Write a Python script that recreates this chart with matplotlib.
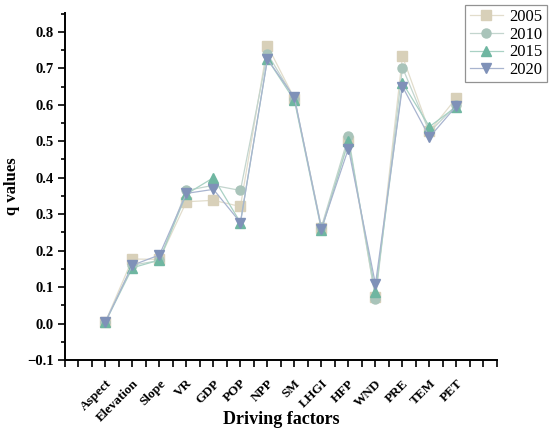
import matplotlib
matplotlib.use("Agg")
import matplotlib.pyplot as plt
from matplotlib.ticker import MultipleLocator, FixedLocator
from matplotlib.transforms import ScaledTranslation

plt.rcParams['font.family'] = ['Liberation Serif', 'DejaVu Serif']

factors = ["Aspect", "Elevation", "Slope", "VR", "GDP", "POP", "NPP", "SM",
           "LHGI", "HFP", "WND", "PRE", "TEM", "PET"]
years = ["2005", "2010", "2015", "2020"]
q2005 = [0.005, 0.177, 0.176, 0.334, 0.338, 0.321, 0.762, 0.617, 0.262, 0.500, 0.072, 0.733, 0.527, 0.619]
q2010 = [0.005, 0.160, 0.173, 0.365, 0.379, 0.365, 0.740, 0.617, 0.265, 0.513, 0.068, 0.702, 0.525, 0.600]
q2015 = [0.004, 0.153, 0.174, 0.355, 0.400, 0.277, 0.725, 0.612, 0.256, 0.500, 0.087, 0.660, 0.540, 0.595]
q2020 = [0.004, 0.160, 0.188, 0.357, 0.368, 0.277, 0.725, 0.620, 0.260, 0.480, 0.108, 0.650, 0.511, 0.597]

series = [q2005, q2010, q2015, q2020]
markers = ['s', 'o', '^', 'v']
mcolors = ['#d8d0b9', '#a9c4ba', '#6fb6a1', '#7f91b8']
lcolors = ['#e2ddcc', '#c3d5ce', '#a9d1c4', '#a8b4cf']

fig = plt.figure(figsize=(5.5, 4.29), dpi=100)
ax = fig.add_axes([0.118, 0.1608, 0.7856, 0.8092])

x = list(range(1, len(factors) + 1))
for vals, m, mc, lc, yr in zip(series, markers, mcolors, lcolors, years):
    ax.plot(x, vals, color=lc, lw=0.9, marker=m, markersize=6.5,
            markerfacecolor=mc, markeredgecolor=mc, label=yr)

ax.set_xlim(-0.5, 15.5)
ax.set_ylim(-0.1, 0.852)
ax.xaxis.set_major_locator(FixedLocator(list(range(0, 16))))
ax.xaxis.set_minor_locator(MultipleLocator(0.5))
ax.set_xticklabels([""] + factors + [""], rotation=45, ha='right', va='top',
                   rotation_mode='anchor', fontsize=9.5, fontweight='bold')
offset = ScaledTranslation(6 / 100, 0, fig.dpi_scale_trans)
for lab in ax.get_xticklabels():
    lab.set_transform(lab.get_transform() + offset)

ax.set_yticks([-0.1, 0.0, 0.1, 0.2, 0.3, 0.4, 0.5, 0.6, 0.7, 0.8])
ax.set_yticklabels(["\u22120.1", "0.0", "0.1", "0.2", "0.3", "0.4", "0.5", "0.6", "0.7", "0.8"],
                   fontsize=10.5, fontweight='bold')
ax.yaxis.set_minor_locator(MultipleLocator(0.05))

ax.tick_params(axis='y', which='major', direction='out', length=5, width=1.2, pad=3)
ax.tick_params(axis='x', which='major', direction='out', length=5, width=1.2, pad=7.5)
ax.tick_params(axis='x', which='minor', direction='out', length=5, width=1.2)
ax.tick_params(axis='y', which='minor', direction='out', length=3, width=1.2)

for s in ['top', 'right']:
    ax.spines[s].set_visible(False)
for s in ['left', 'bottom']:
    ax.spines[s].set_linewidth(1.4)

ax.set_xlabel("Driving factors", fontsize=13, fontweight='bold')
ax.xaxis.set_label_coords(0.5, -0.148)
ax.set_ylabel("q values", fontsize=12, fontweight='bold')
ax.yaxis.set_label_coords(-0.103, 0.5)

leg = fig.legend(loc='upper right', bbox_to_anchor=(547/550, 1 - 5/429),
                 frameon=True, fancybox=False, fontsize=12, handlelength=2.0,
                 borderpad=0.25, labelspacing=0.1, handletextpad=0.4, borderaxespad=0)
leg.get_frame().set_edgecolor('#777777')
leg.get_frame().set_linewidth(0.9)

fig.savefig("out.png", dpi=100)
